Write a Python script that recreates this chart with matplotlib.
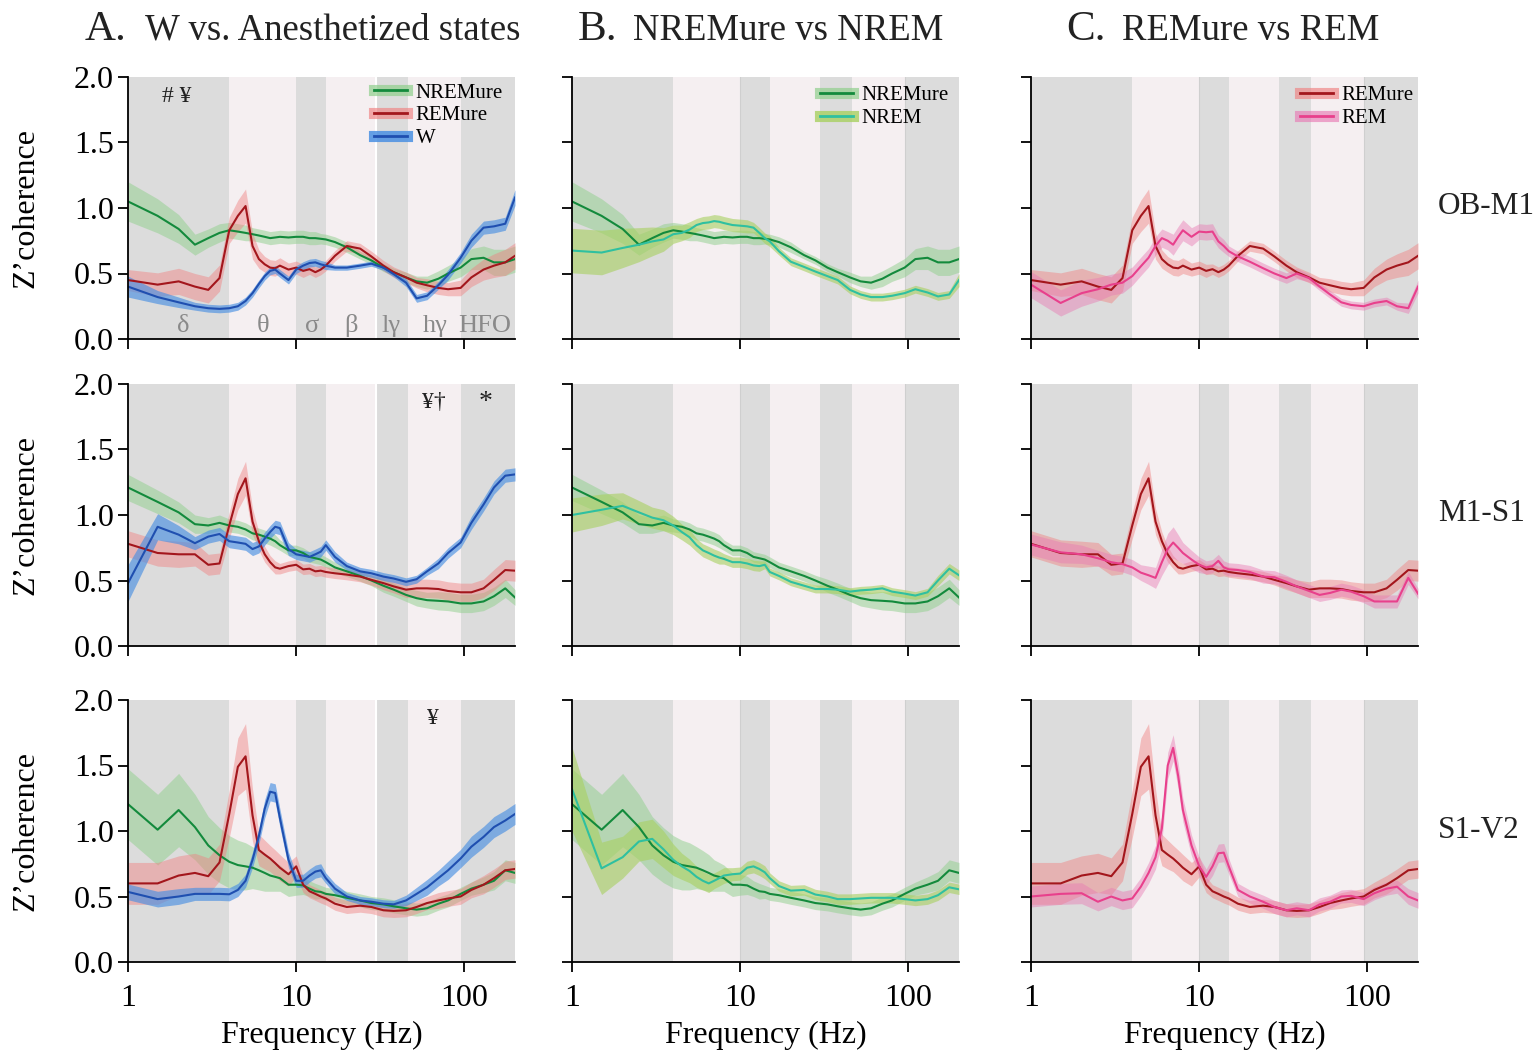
import numpy as np
import matplotlib
matplotlib.use('Agg')
import matplotlib.pyplot as plt
from matplotlib.lines import Line2D
from matplotlib.ticker import NullLocator, FixedLocator

plt.rcParams['font.family'] = ['Liberation Serif', 'DejaVu Serif']

# frequency grid (Hz)
freq = [1, 1.5, 2, 2.5, 3, 3.5, 4, 4.5, 5, 5.5, 6, 6.5, 7, 7.5, 8, 9, 10, 11, 12, 13,
        14, 15, 17, 20, 24, 28, 33, 38, 45, 52, 60, 70, 80, 95, 110, 130, 150, 175, 200]

# ---- OB-M1 ----
nremure_ob = [1.05, 0.94, 0.84, 0.72, 0.77, 0.81, 0.83, 0.82, 0.81, 0.80, 0.79, 0.78, 0.77, 0.775, 0.78, 0.775, 0.78, 0.78, 0.77, 0.77,
              0.765, 0.76, 0.74, 0.70, 0.64, 0.60, 0.545, 0.51, 0.47, 0.44, 0.43, 0.46, 0.50, 0.545, 0.61, 0.62, 0.585, 0.585, 0.61]
nremure_ob_sem = [0.15, 0.13, 0.11, 0.08, 0.07, 0.07, 0.06, 0.06, 0.06, 0.05, 0.05, 0.05, 0.05, 0.05, 0.05, 0.05, 0.05, 0.05, 0.05, 0.05,
                  0.04, 0.04, 0.04, 0.04, 0.03, 0.03, 0.03, 0.03, 0.04, 0.04, 0.05, 0.06, 0.06, 0.07, 0.08, 0.09, 0.10, 0.10, 0.10]
remure_ob = [0.45, 0.415, 0.44, 0.40, 0.375, 0.465, 0.83, 0.94, 1.015, 0.71, 0.61, 0.57, 0.545, 0.54, 0.56, 0.53, 0.545, 0.52, 0.533, 0.51,
             0.53, 0.56, 0.635, 0.71, 0.69, 0.63, 0.56, 0.51, 0.47, 0.43, 0.41, 0.39, 0.38, 0.39, 0.47, 0.53, 0.56, 0.585, 0.635]
remure_ob_sem = [0.08, 0.09, 0.10, 0.10, 0.10, 0.10, 0.10, 0.12, 0.13, 0.10, 0.07, 0.06, 0.06, 0.06, 0.06, 0.05, 0.05, 0.05, 0.04, 0.04,
                 0.04, 0.04, 0.04, 0.04, 0.04, 0.04, 0.04, 0.04, 0.04, 0.04, 0.05, 0.05, 0.05, 0.06, 0.07, 0.08, 0.09, 0.10, 0.10]
w_ob = [0.40, 0.32, 0.28, 0.25, 0.235, 0.23, 0.235, 0.25, 0.29, 0.35, 0.42, 0.48, 0.52, 0.53, 0.50, 0.45, 0.53, 0.56, 0.58, 0.585,
        0.57, 0.56, 0.545, 0.545, 0.56, 0.575, 0.545, 0.495, 0.43, 0.31, 0.33, 0.41, 0.49, 0.62, 0.75, 0.85, 0.86, 0.88, 1.08]
w_ob_sem = [0.08, 0.05, 0.04, 0.03, 0.03, 0.03, 0.03, 0.03, 0.03, 0.03, 0.03, 0.03, 0.03, 0.03, 0.03, 0.03, 0.03, 0.03, 0.03, 0.03,
            0.03, 0.03, 0.02, 0.02, 0.02, 0.02, 0.02, 0.02, 0.03, 0.03, 0.03, 0.03, 0.04, 0.04, 0.05, 0.05, 0.05, 0.05, 0.06]
nrem_ob = [0.675, 0.66, 0.695, 0.72, 0.745, 0.76, 0.80, 0.81, 0.835, 0.87, 0.885, 0.89, 0.90, 0.895, 0.885, 0.87, 0.865, 0.86, 0.85, 0.81,
           0.77, 0.745, 0.67, 0.59, 0.55, 0.515, 0.48, 0.45, 0.375, 0.34, 0.32, 0.32, 0.33, 0.35, 0.38, 0.355, 0.325, 0.34, 0.45]
nrem_ob_sem = [0.17, 0.17, 0.15, 0.13, 0.11, 0.09, 0.07, 0.06, 0.06, 0.05, 0.05, 0.05, 0.05, 0.05, 0.05, 0.05, 0.05, 0.05, 0.04, 0.04,
               0.04, 0.04, 0.03, 0.03, 0.03, 0.03, 0.03, 0.03, 0.03, 0.03, 0.03, 0.03, 0.03, 0.03, 0.03, 0.03, 0.03, 0.03, 0.05]
rem_ob = [0.415, 0.275, 0.35, 0.38, 0.415, 0.43, 0.48, 0.555, 0.62, 0.71, 0.77, 0.75, 0.72, 0.78, 0.83, 0.78, 0.82, 0.815, 0.82, 0.745,
          0.71, 0.67, 0.63, 0.59, 0.54, 0.50, 0.465, 0.50, 0.465, 0.40, 0.34, 0.28, 0.26, 0.25, 0.275, 0.29, 0.25, 0.235, 0.40]
rem_ob_sem = [0.10, 0.10, 0.10, 0.09, 0.08, 0.08, 0.07, 0.07, 0.07, 0.07, 0.07, 0.07, 0.08, 0.08, 0.08, 0.07, 0.06, 0.06, 0.06, 0.05,
              0.05, 0.04, 0.04, 0.04, 0.04, 0.04, 0.04, 0.04, 0.03, 0.03, 0.03, 0.03, 0.03, 0.03, 0.03, 0.03, 0.03, 0.04, 0.05]

# ---- M1-S1 ----
nremure_m1 = [1.21, 1.10, 1.02, 0.93, 0.92, 0.94, 0.92, 0.91, 0.89, 0.86, 0.85, 0.835, 0.82, 0.80, 0.77, 0.73, 0.73, 0.71, 0.68, 0.67,
              0.66, 0.64, 0.60, 0.57, 0.535, 0.50, 0.46, 0.43, 0.39, 0.365, 0.35, 0.345, 0.34, 0.325, 0.325, 0.34, 0.38, 0.44, 0.37]
nremure_m1_sem = [0.10, 0.09, 0.08, 0.07, 0.06, 0.06, 0.05, 0.05, 0.05, 0.05, 0.05, 0.05, 0.05, 0.05, 0.04, 0.04, 0.04, 0.04, 0.04, 0.04,
                  0.04, 0.04, 0.04, 0.04, 0.04, 0.04, 0.05, 0.05, 0.05, 0.06, 0.06, 0.07, 0.07, 0.07, 0.07, 0.07, 0.07, 0.07, 0.06]
remure_m1 = [0.78, 0.71, 0.70, 0.70, 0.62, 0.63, 0.92, 1.16, 1.28, 0.95, 0.80, 0.70, 0.64, 0.60, 0.59, 0.61, 0.62, 0.585, 0.59, 0.57,
             0.575, 0.565, 0.555, 0.545, 0.53, 0.505, 0.48, 0.455, 0.43, 0.44, 0.44, 0.435, 0.42, 0.41, 0.41, 0.44, 0.505, 0.58, 0.575]
remure_m1_sem = [0.10, 0.10, 0.10, 0.09, 0.08, 0.08, 0.10, 0.12, 0.13, 0.10, 0.07, 0.06, 0.05, 0.05, 0.04, 0.04, 0.04, 0.04, 0.04, 0.04,
                 0.04, 0.04, 0.04, 0.04, 0.04, 0.04, 0.05, 0.05, 0.06, 0.07, 0.07, 0.07, 0.07, 0.07, 0.07, 0.07, 0.08, 0.08, 0.08]
w_m1 = [0.48, 0.91, 0.85, 0.785, 0.835, 0.855, 0.80, 0.79, 0.78, 0.74, 0.76, 0.82, 0.87, 0.91, 0.90, 0.74, 0.70, 0.69, 0.68, 0.70,
        0.72, 0.77, 0.68, 0.61, 0.57, 0.555, 0.53, 0.515, 0.49, 0.51, 0.57, 0.63, 0.71, 0.79, 0.94, 1.08, 1.21, 1.30, 1.31]
w_m1_sem = [0.14, 0.10, 0.07, 0.05, 0.05, 0.05, 0.05, 0.05, 0.05, 0.05, 0.05, 0.05, 0.05, 0.05, 0.05, 0.05, 0.04, 0.04, 0.04, 0.04,
            0.04, 0.04, 0.04, 0.03, 0.03, 0.03, 0.03, 0.03, 0.03, 0.03, 0.03, 0.04, 0.04, 0.04, 0.05, 0.05, 0.05, 0.05, 0.05]
nrem_m1 = [1.00, 1.04, 1.07, 1.02, 0.98, 0.96, 0.92, 0.87, 0.83, 0.77, 0.73, 0.71, 0.69, 0.675, 0.665, 0.64, 0.64, 0.63, 0.615, 0.61,
           0.62, 0.565, 0.535, 0.49, 0.46, 0.435, 0.435, 0.43, 0.415, 0.425, 0.43, 0.44, 0.415, 0.40, 0.385, 0.41, 0.50, 0.59, 0.54]
nrem_m1_sem = [0.13, 0.12, 0.10, 0.09, 0.08, 0.08, 0.07, 0.06, 0.06, 0.05, 0.05, 0.05, 0.05, 0.05, 0.04, 0.04, 0.04, 0.04, 0.04, 0.04,
               0.03, 0.03, 0.03, 0.03, 0.03, 0.03, 0.03, 0.03, 0.03, 0.03, 0.03, 0.03, 0.03, 0.03, 0.03, 0.03, 0.04, 0.04, 0.04]
rem_m1 = [0.775, 0.715, 0.70, 0.67, 0.64, 0.625, 0.60, 0.56, 0.54, 0.52, 0.64, 0.74, 0.79, 0.75, 0.71, 0.66, 0.62, 0.60, 0.61, 0.65,
          0.60, 0.585, 0.58, 0.565, 0.53, 0.525, 0.49, 0.455, 0.42, 0.39, 0.405, 0.43, 0.415, 0.38, 0.34, 0.34, 0.34, 0.52, 0.40]
rem_m1_sem = [0.08, 0.08, 0.07, 0.06, 0.06, 0.06, 0.06, 0.06, 0.07, 0.08, 0.10, 0.12, 0.12, 0.10, 0.08, 0.07, 0.06, 0.05, 0.05, 0.05,
              0.05, 0.05, 0.05, 0.05, 0.05, 0.05, 0.05, 0.05, 0.05, 0.05, 0.05, 0.05, 0.05, 0.05, 0.05, 0.05, 0.05, 0.05, 0.04]

# ---- S1-V2 ----
nremure_s1 = [1.205, 1.01, 1.16, 1.03, 0.89, 0.815, 0.765, 0.74, 0.73, 0.72, 0.70, 0.68, 0.66, 0.65, 0.64, 0.59, 0.59, 0.585, 0.56, 0.54,
              0.535, 0.52, 0.51, 0.49, 0.47, 0.45, 0.44, 0.425, 0.41, 0.40, 0.41, 0.445, 0.47, 0.52, 0.56, 0.59, 0.62, 0.70, 0.68]
nremure_s1_sem = [0.27, 0.27, 0.28, 0.25, 0.22, 0.21, 0.20, 0.19, 0.18, 0.16, 0.15, 0.14, 0.12, 0.11, 0.10, 0.09, 0.08, 0.07, 0.06, 0.06,
                  0.05, 0.05, 0.05, 0.05, 0.05, 0.05, 0.05, 0.05, 0.05, 0.05, 0.05, 0.05, 0.05, 0.05, 0.05, 0.06, 0.07, 0.08, 0.08]
remure_s1 = [0.60, 0.60, 0.66, 0.68, 0.655, 0.76, 1.13, 1.49, 1.57, 1.12, 0.855, 0.82, 0.79, 0.755, 0.72, 0.67, 0.73, 0.59, 0.54, 0.52,
             0.50, 0.485, 0.445, 0.42, 0.43, 0.42, 0.395, 0.39, 0.395, 0.42, 0.45, 0.47, 0.485, 0.50, 0.55, 0.59, 0.64, 0.70, 0.71]
remure_s1_sem = [0.16, 0.16, 0.15, 0.15, 0.14, 0.14, 0.18, 0.22, 0.25, 0.20, 0.12, 0.11, 0.10, 0.10, 0.10, 0.09, 0.08, 0.06, 0.05, 0.05,
                 0.05, 0.05, 0.05, 0.05, 0.05, 0.05, 0.05, 0.05, 0.05, 0.05, 0.05, 0.06, 0.06, 0.06, 0.06, 0.07, 0.07, 0.07, 0.07]
w_s1 = [0.535, 0.48, 0.50, 0.52, 0.52, 0.52, 0.517, 0.55, 0.62, 0.78, 0.96, 1.17, 1.30, 1.29, 1.10, 0.78, 0.62, 0.62, 0.66, 0.69,
        0.70, 0.64, 0.56, 0.50, 0.47, 0.46, 0.445, 0.44, 0.47, 0.52, 0.57, 0.64, 0.70, 0.79, 0.88, 0.955, 1.03, 1.08, 1.13]
w_s1_sem = [0.06, 0.06, 0.06, 0.05, 0.05, 0.05, 0.05, 0.05, 0.05, 0.06, 0.06, 0.07, 0.07, 0.07, 0.07, 0.06, 0.05, 0.05, 0.05, 0.05,
            0.05, 0.04, 0.04, 0.03, 0.03, 0.03, 0.03, 0.03, 0.04, 0.05, 0.06, 0.06, 0.07, 0.07, 0.08, 0.08, 0.08, 0.08, 0.08]
nrem_s1 = [1.32, 0.715, 0.80, 0.92, 0.94, 0.86, 0.78, 0.73, 0.695, 0.65, 0.62, 0.60, 0.62, 0.64, 0.66, 0.67, 0.675, 0.72, 0.73, 0.71,
           0.685, 0.64, 0.58, 0.545, 0.55, 0.515, 0.50, 0.48, 0.48, 0.485, 0.49, 0.49, 0.49, 0.48, 0.47, 0.48, 0.51, 0.57, 0.555]
nrem_s1_sem = [0.32, 0.20, 0.16, 0.15, 0.15, 0.14, 0.12, 0.10, 0.09, 0.08, 0.07, 0.07, 0.06, 0.06, 0.06, 0.05, 0.05, 0.05, 0.05, 0.05,
               0.05, 0.04, 0.04, 0.04, 0.04, 0.04, 0.04, 0.04, 0.04, 0.04, 0.04, 0.04, 0.04, 0.04, 0.04, 0.04, 0.04, 0.04, 0.04]
rem_s1 = [0.50, 0.52, 0.525, 0.46, 0.50, 0.47, 0.485, 0.575, 0.68, 0.80, 1.02, 1.50, 1.635, 1.42, 1.16, 0.89, 0.73, 0.65, 0.73, 0.83,
          0.835, 0.73, 0.55, 0.50, 0.46, 0.42, 0.395, 0.41, 0.395, 0.44, 0.46, 0.50, 0.505, 0.48, 0.525, 0.56, 0.575, 0.50, 0.47]
rem_s1_sem = [0.08, 0.08, 0.08, 0.07, 0.07, 0.07, 0.07, 0.07, 0.08, 0.09, 0.10, 0.10, 0.10, 0.10, 0.09, 0.08, 0.07, 0.06, 0.07, 0.07,
              0.07, 0.06, 0.05, 0.05, 0.05, 0.05, 0.05, 0.05, 0.05, 0.05, 0.05, 0.05, 0.05, 0.05, 0.05, 0.05, 0.05, 0.06, 0.06]

# frequency bands
band_edges = [1, 4, 10, 15, 30, 46, 95, 200]
band_names = ['δ', 'θ', 'σ', 'β', 'lγ', 'hγ', 'HFO']
band_label_x = [2.12, 6.36, 12.4, 21.2, 36.8, 67.4, 133]

row_names = ['OB-M1', 'M1-S1', 'S1-V2']
col_titles = [('A.', 'W vs. Anesthetized states'), ('B.', 'NREMure vs NREM'), ('C.', 'REMure vs REM')]

# line colour, fill colour, fill alpha
styles = {
    'NREMure': ('#138a3c', '#8fcf8c', 0.5),
    'REMure': ('#a3161c', '#f08080', 0.45),
    'W': ('#1f4fb0', '#4a90e2', 0.65),
    'NREM': ('#2fc0a0', '#a8d060', 0.6),
    'REM': ('#e8408c', '#e87ab4', 0.45),
}

data = {
    0: {'NREMure': (nremure_ob, nremure_ob_sem), 'REMure': (remure_ob, remure_ob_sem), 'W': (w_ob, w_ob_sem),
        'NREM': (nrem_ob, nrem_ob_sem), 'REM': (rem_ob, rem_ob_sem)},
    1: {'NREMure': (nremure_m1, nremure_m1_sem), 'REMure': (remure_m1, remure_m1_sem), 'W': (w_m1, w_m1_sem),
        'NREM': (nrem_m1, nrem_m1_sem), 'REM': (rem_m1, rem_m1_sem)},
    2: {'NREMure': (nremure_s1, nremure_s1_sem), 'REMure': (remure_s1, remure_s1_sem), 'W': (w_s1, w_s1_sem),
        'NREM': (nrem_s1, nrem_s1_sem), 'REM': (rem_s1, rem_s1_sem)},
}
col_series = [['NREMure', 'REMure', 'W'], ['NREMure', 'NREM'], ['REMure', 'REM']]

# significance marks (col A only): (row, freq, y, text)
marks = [(0, 1.95, 1.85, '# ¥'), (1, 66, 1.86, '¥†'), (1, 133, 1.86, '*'), (2, 65, 1.86, '¥')]

W_PX, H_PX = 1537, 1057
fig = plt.figure(figsize=(W_PX / 100, H_PX / 100), dpi=100)

col_left = [128, 572, 1031]
row_top = [77, 384, 700]
ax_w, ax_h = 387, 262

F = np.array(freq)
for r in range(3):
    for c in range(3):
        ax = fig.add_axes([col_left[c] / W_PX, 1 - (row_top[r] + ax_h) / H_PX, ax_w / W_PX, ax_h / H_PX])
        ax.set_xscale('log')
        ax.set_xlim(1, 200)
        ax.set_ylim(0, 2)
        # background bands
        for i in range(len(band_edges) - 1):
            col = '#dcdcdc' if i % 2 == 0 else '#f5eff1'
            ax.axvspan(band_edges[i], band_edges[i + 1], color=col, lw=0, zorder=0)
        if c == 0:
            ax.axvline(30, color='white', lw=1.5, zorder=0.5)
        else:
            ax.axvline(10, color='#cfcfcf', lw=0.8, zorder=0.5)
            ax.axvline(95, color='#cfcfcf', lw=0.8, zorder=0.5)

        handles = []
        for name in col_series[c]:
            lc, fc, fa = styles[name]
            m = np.array(data[r][name][0])
            s = np.array(data[r][name][1])
            ax.fill_between(F, m - s, m + s, color=fc, alpha=fa, lw=0, zorder=2)
            ax.plot(F, m, color=lc, lw=1.5, zorder=3)
            handles.append((Line2D([], [], color=fc, lw=8, alpha=min(1, fa + 0.2)),
                            Line2D([], [], color=lc, lw=2)))

        if r == 0:
            anchor = [(0.63, 0.985), (0.635, 0.975), (0.69, 0.975)][c]
            ax.legend(handles, col_series[c], loc='upper left', bbox_to_anchor=anchor,
                      frameon=False, fontsize=15, handlelength=1.6, handletextpad=0.4,
                      labelspacing=0.15, borderpad=0.1, borderaxespad=0)

        for sp in ['top', 'right']:
            ax.spines[sp].set_visible(False)
        for sp in ['left', 'bottom']:
            ax.spines[sp].set_linewidth(1.3)
            ax.spines[sp].set_zorder(5)
        ax.xaxis.set_major_locator(FixedLocator([1, 10, 100]))
        ax.xaxis.set_minor_locator(NullLocator())
        ax.set_yticks([0, 0.5, 1.0, 1.5, 2.0])
        ax.tick_params(direction='out', length=7, width=1.3, labelsize=23, pad=3)
        ax.tick_params(axis='x', pad=9)
        if r == 2:
            ax.set_xticklabels(['1', '10', '100'])
            ax.set_xlabel('Frequency (Hz)', fontsize=23)
            ax.xaxis.set_label_coords(0.5, -0.225)
        else:
            ax.set_xticklabels([])
        if c == 0:
            ax.set_yticklabels(['0.0', '0.5', '1.0', '1.5', '2.0'])
            ax.set_ylabel('Z’coherence', fontsize=23)
            ax.yaxis.set_label_coords(-0.225, 0.5)
        else:
            ax.set_yticklabels([])

        if r == 0 and c == 0:
            for name, x in zip(band_names, band_label_x):
                ax.text(x, 0.1, name, fontsize=19, color='#8a8a8a', ha='center', va='center', zorder=4)
        if c == 0:
            for mr, mx, my, mt in marks:
                if mr == r:
                    ax.text(mx, my, mt, fontsize=17 if mt != '*' else 20, ha='center', va='center',
                            color='#222222', zorder=4)

# column titles
title_x = [(85, 145), (578, 633), (1066, 1122)]
for (big, small), (x1, x2) in zip(col_titles, title_x):
    fig.text(x1 / W_PX, 1 - 40 / H_PX, big, fontsize=31, va='baseline', color='#222222')
    fig.text(x2 / W_PX, 1 - 40 / H_PX, small, fontsize=26.5, va='baseline', color='#222222')

# row labels
for name, y in zip(row_names, [207, 514, 830]):
    fig.text(1438 / W_PX, 1 - y / H_PX, name, fontsize=22.5, va='center', color='#222222')

fig.savefig('out.png', dpi=100)
